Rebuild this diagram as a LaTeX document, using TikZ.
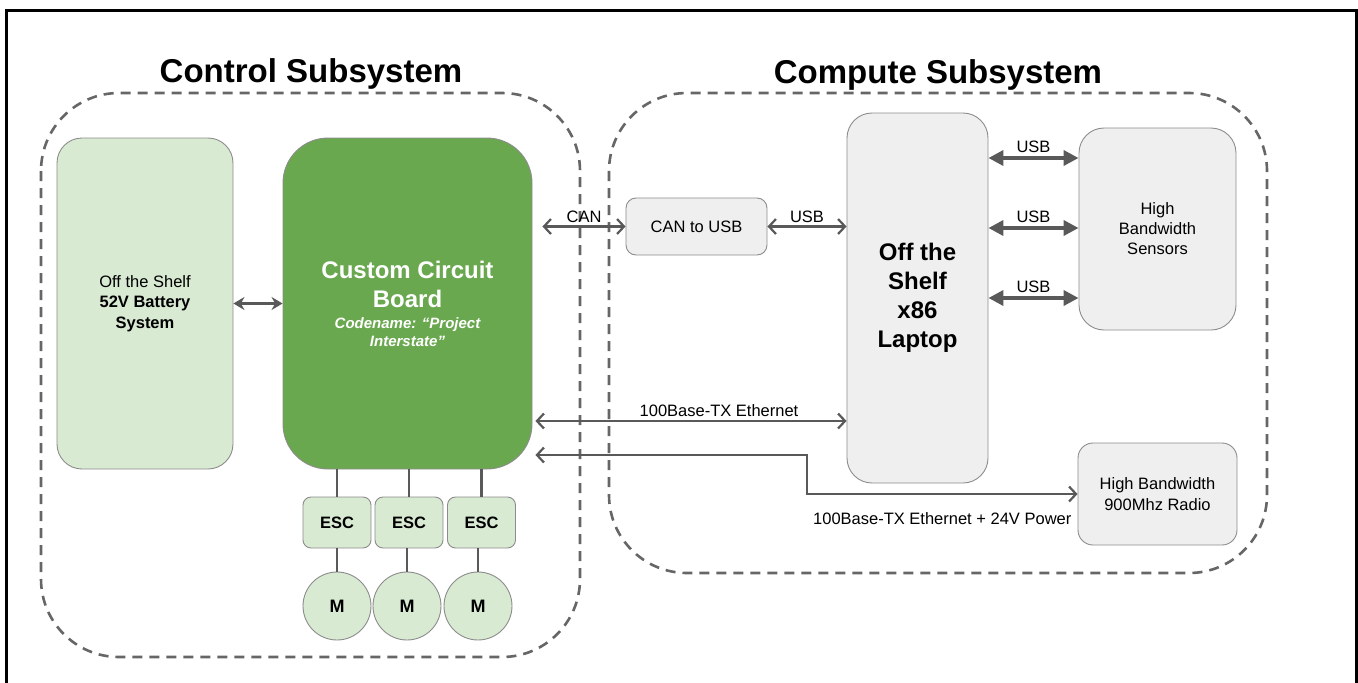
\documentclass[tikz,border=0pt]{standalone}
\usepackage{fontspec}
\setmainfont{Liberation Sans}
\usetikzlibrary{arrows.meta}

\definecolor{lgreen}{HTML}{D9EAD3}
\definecolor{dgreen}{HTML}{6AA84F}
\definecolor{boxgray}{HTML}{EFEFEF}
\definecolor{edge}{HTML}{8C8C8C}
\definecolor{wire}{HTML}{595959}
\definecolor{zone}{HTML}{666666}

\newcommand{\fsz}[2]{\fontsize{#1}{#2}\selectfont}
\newcommand{\codefont}{\fsz{15}{18}\bfseries\itshape}

\begin{document}
\begin{tikzpicture}[x=1pt,y=-1pt,
  box/.style={draw=edge, line width=0.9pt, align=center, inner sep=0pt},
  lbox/.style={box, fill=lgreen},
  gbox/.style={box, fill=boxgray},
  zonebox/.style={draw=zone, line width=2.6pt, dash pattern=on 10pt off 7pt, rounded corners=78pt},
  title/.style={font=\fsz{33}{40}\bfseries, anchor=base},
  lbl/.style={font=\fsz{16.5}{20}, inner sep=3pt},
  biwire/.style={draw=wire, line width=2.2pt,
    {Straight Barb[length=7pt,width=15pt]}-{Straight Barb[length=7pt,width=15pt]}},
  usbwire/.style={draw=wire, line width=3.6pt,
    {Triangle[length=15pt,width=15pt]}-{Triangle[length=15pt,width=15pt]}},
  battwire/.style={draw=wire, line width=2.6pt,
    {Stealth[length=11pt,width=13pt]}-{Stealth[length=11pt,width=13pt]}},
  stub/.style={draw=wire, line width=2.4pt},
  esc/.style={lbox, minimum width=68pt, minimum height=51pt, rounded corners=8pt,
    font=\fsz{16.5}{20}\bfseries},
  motor/.style={lbox, circle, minimum size=68pt, font=\fsz{18}{20}\bfseries}
]
\useasboundingbox (0,0) rectangle (1358,683);

% outer frame, open at the bottom
\draw[line width=3pt] (6.5,683) -- (6.5,10) -- (1356,10) -- (1356,683);

% subsystem zones
\draw[zonebox] (41,93) rectangle (580,657);
\draw[zonebox] (609,93) rectangle (1267,573);
\node[title] (ctitle) at (311,82) {Control Subsystem};
\node[title] (ptitle) at (938,83) {Compute Subsystem};

% control subsystem blocks
\node[lbox, minimum width=176pt, minimum height=331pt, rounded corners=25pt,
      font=\fsz{16.5}{20.5}] (batt) at (145,303.5)
  {Off the Shelf\\\textbf{52V Battery}\\\textbf{System}};
\node[box, fill=dgreen, text=white, minimum width=249pt, minimum height=331pt,
      rounded corners=45pt, font=\fsz{24}{29}\bfseries] (board) at (407.5,303.5)
  {Custom Circuit\\Board\\[-8pt]
   \codefont Codename: “Project\\[-11pt]\codefont Interstate”};

\node[esc] (esc1) at (337,522.5) {ESC};
\node[esc] (esc2) at (409,522.5) {ESC};
\node[esc] (esc3) at (481.5,522.5) {ESC};
\node[motor] (m1) at (337,606) {M};
\node[motor] (m2) at (407,606) {M};
\node[motor] (m3) at (478,606) {M};

% compute subsystem blocks
\node[gbox, minimum width=141pt, minimum height=57pt, rounded corners=10pt,
      font=\fsz{16.5}{20}] (can) at (696.5,226.5) {CAN to USB};
\node[gbox, minimum width=141pt, minimum height=370pt, rounded corners=25pt,
      font=\fsz{24}{29}\bfseries] (laptop) at (917.5,298) {Off the\\Shelf\\x86\\Laptop};
\node[gbox, minimum width=157pt, minimum height=202pt, rounded corners=25pt,
      font=\fsz{16.5}{20}] (sensors) at (1157.5,229) {High\\Bandwidth\\Sensors};
\node[gbox, minimum width=159pt, minimum height=102pt, rounded corners=15pt,
      font=\fsz{16.5}{21}] (radio) at (1157.5,494) {High Bandwidth\\900Mhz Radio};

% power and motor wiring
\draw[battwire] (batt) -- (board);
\draw[stub] (board.south -| esc1) -- (esc1);
\draw[stub] (board.south -| esc2) -- (esc2);
\draw[stub] (board.south -| esc3) -- (esc3);
\draw[stub] (m1 |- esc1.south) -- (m1);
\draw[stub] (m2 |- esc2.south) -- (m2);
\draw[stub] (m3 |- esc3.south) -- (m3);

% data links
\draw[biwire] ([xshift=10pt]board.east |- can.west) -- (can.west)
  node[lbl, midway, above] {CAN};
\draw[biwire] (can.east) -- (can.east -| laptop.west)
  node[lbl, midway, above] {USB};

\coordinate (usbA) at ([yshift=71pt]sensors.west);
\coordinate (usbB) at ([yshift=1pt]sensors.west);
\coordinate (usbC) at ([yshift=-69pt]sensors.west);
\draw[usbwire] (laptop.east |- usbA) -- (usbA) node[lbl, midway, above=1pt] {USB};
\draw[usbwire] (laptop.east |- usbB) -- (usbB) node[lbl, midway, above=1pt] {USB};
\draw[usbwire] (laptop.east |- usbC) -- (usbC) node[lbl, midway, above=1pt] {USB};

\coordinate (ethL) at ([yshift=-123pt]laptop.west);
\draw[biwire] ([xshift=3pt]board.east |- ethL) -- (ethL)
  node[lbl, pos=0.59, above] {100Base-TX Ethernet};

\coordinate (bend) at (807,455);
\draw[biwire] ([xshift=3pt]board.east |- bend) -- (bend) |- (radio.west)
  node[lbl, pos=0.75, below=17pt, inner sep=0pt] {100Base-TX Ethernet + 24V Power};
\end{tikzpicture}
\end{document}
